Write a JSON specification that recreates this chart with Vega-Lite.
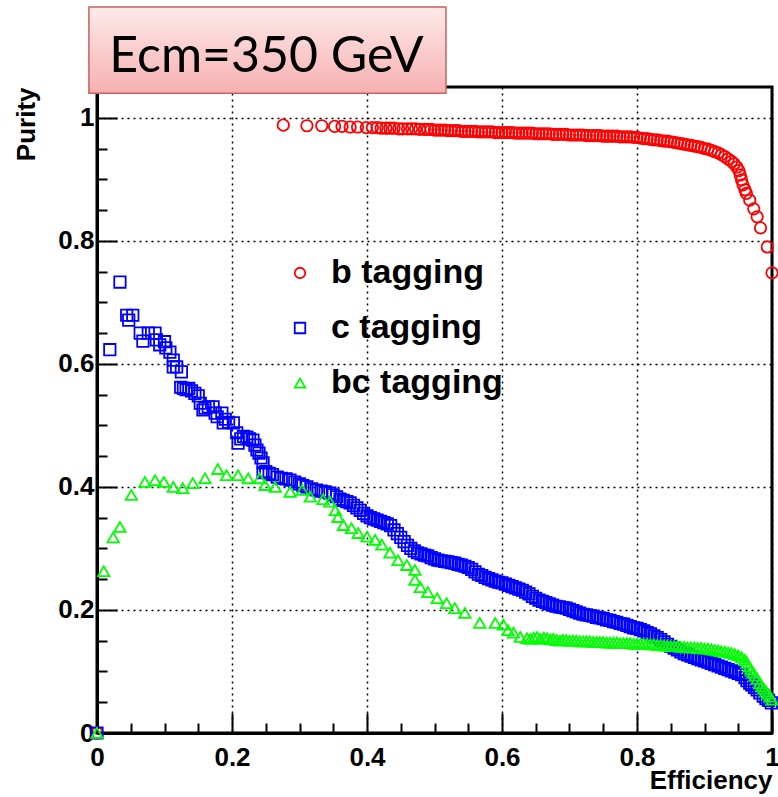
{
  "$schema": "https://vega.github.io/schema/vega-lite/v6.json",
  "width": 675,
  "height": 646,
  "autosize": {"type": "none"},
  "padding": {"left": 97, "top": 87, "right": 6, "bottom": 64},
  "background": "white",
  "config": {
    "view": {"stroke": "black", "strokeWidth": 3},
    "legend": {
      "orient": "none",
      "legendX": 186,
      "legendY": 169,
      "padding": 0,
      "labelFont": "Liberation Sans",
      "labelFontWeight": "bold",
      "labelFontSize": 34,
      "labelColor": "black",
      "labelLimit": 0,
      "labelOffset": 14,
      "rowPadding": 21,
      "symbolSize": 110,
      "symbolStrokeWidth": 1.8
    }
  },
  "data": {
    "values": [
      {"tag": "b tagging", "eff": 0, "pur": 0},
      {"tag": "b tagging", "eff": 0.276, "pur": 0.988},
      {"tag": "b tagging", "eff": 0.311, "pur": 0.987},
      {"tag": "b tagging", "eff": 0.333, "pur": 0.987},
      {"tag": "b tagging", "eff": 0.352, "pur": 0.986},
      {"tag": "b tagging", "eff": 0.363, "pur": 0.986},
      {"tag": "b tagging", "eff": 0.375, "pur": 0.985},
      {"tag": "b tagging", "eff": 0.386, "pur": 0.985},
      {"tag": "b tagging", "eff": 0.399, "pur": 0.984},
      {"tag": "b tagging", "eff": 0.408, "pur": 0.984},
      {"tag": "b tagging", "eff": 0.415, "pur": 0.984},
      {"tag": "b tagging", "eff": 0.421, "pur": 0.983},
      {"tag": "b tagging", "eff": 0.428, "pur": 0.983},
      {"tag": "b tagging", "eff": 0.434, "pur": 0.983},
      {"tag": "b tagging", "eff": 0.44, "pur": 0.983},
      {"tag": "b tagging", "eff": 0.447, "pur": 0.982},
      {"tag": "b tagging", "eff": 0.453, "pur": 0.982},
      {"tag": "b tagging", "eff": 0.46, "pur": 0.982},
      {"tag": "b tagging", "eff": 0.466, "pur": 0.982},
      {"tag": "b tagging", "eff": 0.472, "pur": 0.982},
      {"tag": "b tagging", "eff": 0.478, "pur": 0.981},
      {"tag": "b tagging", "eff": 0.485, "pur": 0.981},
      {"tag": "b tagging", "eff": 0.49, "pur": 0.981},
      {"tag": "b tagging", "eff": 0.495, "pur": 0.981},
      {"tag": "b tagging", "eff": 0.5, "pur": 0.98},
      {"tag": "b tagging", "eff": 0.505, "pur": 0.98},
      {"tag": "b tagging", "eff": 0.51, "pur": 0.98},
      {"tag": "b tagging", "eff": 0.515, "pur": 0.98},
      {"tag": "b tagging", "eff": 0.52, "pur": 0.979},
      {"tag": "b tagging", "eff": 0.525, "pur": 0.979},
      {"tag": "b tagging", "eff": 0.53, "pur": 0.979},
      {"tag": "b tagging", "eff": 0.535, "pur": 0.979},
      {"tag": "b tagging", "eff": 0.54, "pur": 0.978},
      {"tag": "b tagging", "eff": 0.545, "pur": 0.978},
      {"tag": "b tagging", "eff": 0.55, "pur": 0.978},
      {"tag": "b tagging", "eff": 0.555, "pur": 0.978},
      {"tag": "b tagging", "eff": 0.56, "pur": 0.978},
      {"tag": "b tagging", "eff": 0.565, "pur": 0.977},
      {"tag": "b tagging", "eff": 0.57, "pur": 0.977},
      {"tag": "b tagging", "eff": 0.575, "pur": 0.977},
      {"tag": "b tagging", "eff": 0.58, "pur": 0.977},
      {"tag": "b tagging", "eff": 0.585, "pur": 0.977},
      {"tag": "b tagging", "eff": 0.59, "pur": 0.976},
      {"tag": "b tagging", "eff": 0.595, "pur": 0.976},
      {"tag": "b tagging", "eff": 0.6, "pur": 0.976},
      {"tag": "b tagging", "eff": 0.605, "pur": 0.976},
      {"tag": "b tagging", "eff": 0.61, "pur": 0.976},
      {"tag": "b tagging", "eff": 0.615, "pur": 0.976},
      {"tag": "b tagging", "eff": 0.62, "pur": 0.975},
      {"tag": "b tagging", "eff": 0.625, "pur": 0.975},
      {"tag": "b tagging", "eff": 0.63, "pur": 0.975},
      {"tag": "b tagging", "eff": 0.635, "pur": 0.975},
      {"tag": "b tagging", "eff": 0.64, "pur": 0.975},
      {"tag": "b tagging", "eff": 0.645, "pur": 0.975},
      {"tag": "b tagging", "eff": 0.65, "pur": 0.974},
      {"tag": "b tagging", "eff": 0.655, "pur": 0.974},
      {"tag": "b tagging", "eff": 0.66, "pur": 0.974},
      {"tag": "b tagging", "eff": 0.665, "pur": 0.974},
      {"tag": "b tagging", "eff": 0.67, "pur": 0.974},
      {"tag": "b tagging", "eff": 0.675, "pur": 0.973},
      {"tag": "b tagging", "eff": 0.68, "pur": 0.973},
      {"tag": "b tagging", "eff": 0.685, "pur": 0.973},
      {"tag": "b tagging", "eff": 0.69, "pur": 0.973},
      {"tag": "b tagging", "eff": 0.695, "pur": 0.973},
      {"tag": "b tagging", "eff": 0.7, "pur": 0.972},
      {"tag": "b tagging", "eff": 0.705, "pur": 0.972},
      {"tag": "b tagging", "eff": 0.71, "pur": 0.972},
      {"tag": "b tagging", "eff": 0.715, "pur": 0.972},
      {"tag": "b tagging", "eff": 0.72, "pur": 0.972},
      {"tag": "b tagging", "eff": 0.725, "pur": 0.971},
      {"tag": "b tagging", "eff": 0.73, "pur": 0.971},
      {"tag": "b tagging", "eff": 0.735, "pur": 0.971},
      {"tag": "b tagging", "eff": 0.74, "pur": 0.971},
      {"tag": "b tagging", "eff": 0.745, "pur": 0.971},
      {"tag": "b tagging", "eff": 0.75, "pur": 0.97},
      {"tag": "b tagging", "eff": 0.755, "pur": 0.97},
      {"tag": "b tagging", "eff": 0.76, "pur": 0.97},
      {"tag": "b tagging", "eff": 0.765, "pur": 0.97},
      {"tag": "b tagging", "eff": 0.77, "pur": 0.97},
      {"tag": "b tagging", "eff": 0.775, "pur": 0.969},
      {"tag": "b tagging", "eff": 0.78, "pur": 0.969},
      {"tag": "b tagging", "eff": 0.785, "pur": 0.969},
      {"tag": "b tagging", "eff": 0.79, "pur": 0.969},
      {"tag": "b tagging", "eff": 0.795, "pur": 0.968},
      {"tag": "b tagging", "eff": 0.8, "pur": 0.968},
      {"tag": "b tagging", "eff": 0.805, "pur": 0.967},
      {"tag": "b tagging", "eff": 0.81, "pur": 0.966},
      {"tag": "b tagging", "eff": 0.815, "pur": 0.966},
      {"tag": "b tagging", "eff": 0.82, "pur": 0.965},
      {"tag": "b tagging", "eff": 0.825, "pur": 0.964},
      {"tag": "b tagging", "eff": 0.83, "pur": 0.964},
      {"tag": "b tagging", "eff": 0.835, "pur": 0.963},
      {"tag": "b tagging", "eff": 0.84, "pur": 0.962},
      {"tag": "b tagging", "eff": 0.845, "pur": 0.962},
      {"tag": "b tagging", "eff": 0.85, "pur": 0.961},
      {"tag": "b tagging", "eff": 0.855, "pur": 0.96},
      {"tag": "b tagging", "eff": 0.86, "pur": 0.959},
      {"tag": "b tagging", "eff": 0.865, "pur": 0.958},
      {"tag": "b tagging", "eff": 0.87, "pur": 0.957},
      {"tag": "b tagging", "eff": 0.875, "pur": 0.956},
      {"tag": "b tagging", "eff": 0.88, "pur": 0.955},
      {"tag": "b tagging", "eff": 0.885, "pur": 0.954},
      {"tag": "b tagging", "eff": 0.89, "pur": 0.953},
      {"tag": "b tagging", "eff": 0.895, "pur": 0.952},
      {"tag": "b tagging", "eff": 0.9, "pur": 0.95},
      {"tag": "b tagging", "eff": 0.905, "pur": 0.949},
      {"tag": "b tagging", "eff": 0.91, "pur": 0.947},
      {"tag": "b tagging", "eff": 0.915, "pur": 0.945},
      {"tag": "b tagging", "eff": 0.92, "pur": 0.943},
      {"tag": "b tagging", "eff": 0.925, "pur": 0.94},
      {"tag": "b tagging", "eff": 0.93, "pur": 0.937},
      {"tag": "b tagging", "eff": 0.935, "pur": 0.933},
      {"tag": "b tagging", "eff": 0.94, "pur": 0.929},
      {"tag": "b tagging", "eff": 0.944, "pur": 0.925},
      {"tag": "b tagging", "eff": 0.948, "pur": 0.92},
      {"tag": "b tagging", "eff": 0.951, "pur": 0.914},
      {"tag": "b tagging", "eff": 0.953, "pur": 0.907},
      {"tag": "b tagging", "eff": 0.955, "pur": 0.899},
      {"tag": "b tagging", "eff": 0.957, "pur": 0.891},
      {"tag": "b tagging", "eff": 0.96, "pur": 0.883},
      {"tag": "b tagging", "eff": 0.962, "pur": 0.877},
      {"tag": "b tagging", "eff": 0.967, "pur": 0.866},
      {"tag": "b tagging", "eff": 0.973, "pur": 0.852},
      {"tag": "b tagging", "eff": 0.978, "pur": 0.839},
      {"tag": "b tagging", "eff": 0.983, "pur": 0.821},
      {"tag": "b tagging", "eff": 0.993, "pur": 0.79},
      {"tag": "b tagging", "eff": 1.0, "pur": 0.748},

      {"tag": "c tagging", "eff": 0, "pur": 0},
      {"tag": "c tagging", "eff": 0.019, "pur": 0.623},
      {"tag": "c tagging", "eff": 0.034, "pur": 0.733},
      {"tag": "c tagging", "eff": 0.044, "pur": 0.679},
      {"tag": "c tagging", "eff": 0.047, "pur": 0.671},
      {"tag": "c tagging", "eff": 0.053, "pur": 0.679},
      {"tag": "c tagging", "eff": 0.064, "pur": 0.65},
      {"tag": "c tagging", "eff": 0.068, "pur": 0.637},
      {"tag": "c tagging", "eff": 0.076, "pur": 0.65},
      {"tag": "c tagging", "eff": 0.086, "pur": 0.65},
      {"tag": "c tagging", "eff": 0.088, "pur": 0.639},
      {"tag": "c tagging", "eff": 0.093, "pur": 0.631},
      {"tag": "c tagging", "eff": 0.1, "pur": 0.636},
      {"tag": "c tagging", "eff": 0.102, "pur": 0.626},
      {"tag": "c tagging", "eff": 0.108, "pur": 0.619},
      {"tag": "c tagging", "eff": 0.113, "pur": 0.606},
      {"tag": "c tagging", "eff": 0.113, "pur": 0.595},
      {"tag": "c tagging", "eff": 0.118, "pur": 0.595},
      {"tag": "c tagging", "eff": 0.125, "pur": 0.587},
      {"tag": "c tagging", "eff": 0.124, "pur": 0.562},
      {"tag": "c tagging", "eff": 0.128, "pur": 0.56},
      {"tag": "c tagging", "eff": 0.132, "pur": 0.558},
      {"tag": "c tagging", "eff": 0.136, "pur": 0.56},
      {"tag": "c tagging", "eff": 0.14, "pur": 0.556},
      {"tag": "c tagging", "eff": 0.145, "pur": 0.552},
      {"tag": "c tagging", "eff": 0.15, "pur": 0.548},
      {"tag": "c tagging", "eff": 0.153, "pur": 0.536},
      {"tag": "c tagging", "eff": 0.157, "pur": 0.525},
      {"tag": "c tagging", "eff": 0.16, "pur": 0.528},
      {"tag": "c tagging", "eff": 0.165, "pur": 0.53},
      {"tag": "c tagging", "eff": 0.172, "pur": 0.53},
      {"tag": "c tagging", "eff": 0.175, "pur": 0.52},
      {"tag": "c tagging", "eff": 0.178, "pur": 0.514},
      {"tag": "c tagging", "eff": 0.185, "pur": 0.52},
      {"tag": "c tagging", "eff": 0.187, "pur": 0.504},
      {"tag": "c tagging", "eff": 0.19, "pur": 0.51},
      {"tag": "c tagging", "eff": 0.195, "pur": 0.505},
      {"tag": "c tagging", "eff": 0.202, "pur": 0.504},
      {"tag": "c tagging", "eff": 0.207, "pur": 0.488},
      {"tag": "c tagging", "eff": 0.209, "pur": 0.471},
      {"tag": "c tagging", "eff": 0.213, "pur": 0.478},
      {"tag": "c tagging", "eff": 0.217, "pur": 0.482},
      {"tag": "c tagging", "eff": 0.222, "pur": 0.481},
      {"tag": "c tagging", "eff": 0.226, "pur": 0.478},
      {"tag": "c tagging", "eff": 0.231, "pur": 0.476},
      {"tag": "c tagging", "eff": 0.234, "pur": 0.468},
      {"tag": "c tagging", "eff": 0.237, "pur": 0.46},
      {"tag": "c tagging", "eff": 0.24, "pur": 0.455},
      {"tag": "c tagging", "eff": 0.243, "pur": 0.447},
      {"tag": "c tagging", "eff": 0.246, "pur": 0.439},
      {"tag": "c tagging", "eff": 0.246, "pur": 0.423},
      {"tag": "c tagging", "eff": 0.25, "pur": 0.425},
      {"tag": "c tagging", "eff": 0.255, "pur": 0.422},
      {"tag": "c tagging", "eff": 0.26, "pur": 0.42},
      {"tag": "c tagging", "eff": 0.267, "pur": 0.416},
      {"tag": "c tagging", "eff": 0.273, "pur": 0.414},
      {"tag": "c tagging", "eff": 0.28, "pur": 0.413},
      {"tag": "c tagging", "eff": 0.286, "pur": 0.411},
      {"tag": "c tagging", "eff": 0.293, "pur": 0.408},
      {"tag": "c tagging", "eff": 0.3, "pur": 0.405},
      {"tag": "c tagging", "eff": 0.305, "pur": 0.402},
      {"tag": "c tagging", "eff": 0.311, "pur": 0.4},
      {"tag": "c tagging", "eff": 0.318, "pur": 0.397},
      {"tag": "c tagging", "eff": 0.325, "pur": 0.395},
      {"tag": "c tagging", "eff": 0.332, "pur": 0.393},
      {"tag": "c tagging", "eff": 0.338, "pur": 0.392},
      {"tag": "c tagging", "eff": 0.345, "pur": 0.39},
      {"tag": "c tagging", "eff": 0.35, "pur": 0.387},
      {"tag": "c tagging", "eff": 0.355, "pur": 0.384},
      {"tag": "c tagging", "eff": 0.36, "pur": 0.38},
      {"tag": "c tagging", "eff": 0.365, "pur": 0.378},
      {"tag": "c tagging", "eff": 0.37, "pur": 0.376},
      {"tag": "c tagging", "eff": 0.375, "pur": 0.374},
      {"tag": "c tagging", "eff": 0.38, "pur": 0.37},
      {"tag": "c tagging", "eff": 0.385, "pur": 0.366},
      {"tag": "c tagging", "eff": 0.39, "pur": 0.362},
      {"tag": "c tagging", "eff": 0.395, "pur": 0.357},
      {"tag": "c tagging", "eff": 0.4, "pur": 0.353},
      {"tag": "c tagging", "eff": 0.405, "pur": 0.35},
      {"tag": "c tagging", "eff": 0.41, "pur": 0.348},
      {"tag": "c tagging", "eff": 0.415, "pur": 0.346},
      {"tag": "c tagging", "eff": 0.42, "pur": 0.344},
      {"tag": "c tagging", "eff": 0.425, "pur": 0.342},
      {"tag": "c tagging", "eff": 0.43, "pur": 0.34},
      {"tag": "c tagging", "eff": 0.435, "pur": 0.337},
      {"tag": "c tagging", "eff": 0.44, "pur": 0.33},
      {"tag": "c tagging", "eff": 0.445, "pur": 0.324},
      {"tag": "c tagging", "eff": 0.45, "pur": 0.318},
      {"tag": "c tagging", "eff": 0.455, "pur": 0.311},
      {"tag": "c tagging", "eff": 0.46, "pur": 0.305},
      {"tag": "c tagging", "eff": 0.465, "pur": 0.3},
      {"tag": "c tagging", "eff": 0.47, "pur": 0.296},
      {"tag": "c tagging", "eff": 0.475, "pur": 0.293},
      {"tag": "c tagging", "eff": 0.48, "pur": 0.291},
      {"tag": "c tagging", "eff": 0.485, "pur": 0.289},
      {"tag": "c tagging", "eff": 0.49, "pur": 0.288},
      {"tag": "c tagging", "eff": 0.495, "pur": 0.285},
      {"tag": "c tagging", "eff": 0.5, "pur": 0.283},
      {"tag": "c tagging", "eff": 0.505, "pur": 0.281},
      {"tag": "c tagging", "eff": 0.51, "pur": 0.28},
      {"tag": "c tagging", "eff": 0.515, "pur": 0.279},
      {"tag": "c tagging", "eff": 0.52, "pur": 0.278},
      {"tag": "c tagging", "eff": 0.525, "pur": 0.277},
      {"tag": "c tagging", "eff": 0.53, "pur": 0.276},
      {"tag": "c tagging", "eff": 0.535, "pur": 0.274},
      {"tag": "c tagging", "eff": 0.54, "pur": 0.273},
      {"tag": "c tagging", "eff": 0.545, "pur": 0.271},
      {"tag": "c tagging", "eff": 0.55, "pur": 0.269},
      {"tag": "c tagging", "eff": 0.555, "pur": 0.266},
      {"tag": "c tagging", "eff": 0.56, "pur": 0.262},
      {"tag": "c tagging", "eff": 0.565, "pur": 0.258},
      {"tag": "c tagging", "eff": 0.57, "pur": 0.256},
      {"tag": "c tagging", "eff": 0.575, "pur": 0.253},
      {"tag": "c tagging", "eff": 0.58, "pur": 0.251},
      {"tag": "c tagging", "eff": 0.585, "pur": 0.249},
      {"tag": "c tagging", "eff": 0.59, "pur": 0.247},
      {"tag": "c tagging", "eff": 0.595, "pur": 0.245},
      {"tag": "c tagging", "eff": 0.6, "pur": 0.244},
      {"tag": "c tagging", "eff": 0.605, "pur": 0.242},
      {"tag": "c tagging", "eff": 0.61, "pur": 0.24},
      {"tag": "c tagging", "eff": 0.615, "pur": 0.238},
      {"tag": "c tagging", "eff": 0.62, "pur": 0.236},
      {"tag": "c tagging", "eff": 0.625, "pur": 0.234},
      {"tag": "c tagging", "eff": 0.63, "pur": 0.232},
      {"tag": "c tagging", "eff": 0.635, "pur": 0.229},
      {"tag": "c tagging", "eff": 0.64, "pur": 0.226},
      {"tag": "c tagging", "eff": 0.645, "pur": 0.222},
      {"tag": "c tagging", "eff": 0.65, "pur": 0.219},
      {"tag": "c tagging", "eff": 0.655, "pur": 0.216},
      {"tag": "c tagging", "eff": 0.66, "pur": 0.214},
      {"tag": "c tagging", "eff": 0.665, "pur": 0.212},
      {"tag": "c tagging", "eff": 0.67, "pur": 0.21},
      {"tag": "c tagging", "eff": 0.675, "pur": 0.208},
      {"tag": "c tagging", "eff": 0.68, "pur": 0.206},
      {"tag": "c tagging", "eff": 0.685, "pur": 0.205},
      {"tag": "c tagging", "eff": 0.69, "pur": 0.204},
      {"tag": "c tagging", "eff": 0.695, "pur": 0.203},
      {"tag": "c tagging", "eff": 0.7, "pur": 0.201},
      {"tag": "c tagging", "eff": 0.705, "pur": 0.199},
      {"tag": "c tagging", "eff": 0.71, "pur": 0.197},
      {"tag": "c tagging", "eff": 0.715, "pur": 0.195},
      {"tag": "c tagging", "eff": 0.72, "pur": 0.193},
      {"tag": "c tagging", "eff": 0.725, "pur": 0.192},
      {"tag": "c tagging", "eff": 0.73, "pur": 0.191},
      {"tag": "c tagging", "eff": 0.735, "pur": 0.19},
      {"tag": "c tagging", "eff": 0.74, "pur": 0.188},
      {"tag": "c tagging", "eff": 0.745, "pur": 0.187},
      {"tag": "c tagging", "eff": 0.75, "pur": 0.186},
      {"tag": "c tagging", "eff": 0.755, "pur": 0.184},
      {"tag": "c tagging", "eff": 0.76, "pur": 0.183},
      {"tag": "c tagging", "eff": 0.765, "pur": 0.181},
      {"tag": "c tagging", "eff": 0.77, "pur": 0.18},
      {"tag": "c tagging", "eff": 0.775, "pur": 0.178},
      {"tag": "c tagging", "eff": 0.78, "pur": 0.177},
      {"tag": "c tagging", "eff": 0.785, "pur": 0.175},
      {"tag": "c tagging", "eff": 0.79, "pur": 0.173},
      {"tag": "c tagging", "eff": 0.795, "pur": 0.171},
      {"tag": "c tagging", "eff": 0.8, "pur": 0.17},
      {"tag": "c tagging", "eff": 0.805, "pur": 0.168},
      {"tag": "c tagging", "eff": 0.81, "pur": 0.166},
      {"tag": "c tagging", "eff": 0.815, "pur": 0.163},
      {"tag": "c tagging", "eff": 0.82, "pur": 0.161},
      {"tag": "c tagging", "eff": 0.825, "pur": 0.158},
      {"tag": "c tagging", "eff": 0.83, "pur": 0.155},
      {"tag": "c tagging", "eff": 0.835, "pur": 0.152},
      {"tag": "c tagging", "eff": 0.84, "pur": 0.148},
      {"tag": "c tagging", "eff": 0.845, "pur": 0.144},
      {"tag": "c tagging", "eff": 0.85, "pur": 0.141},
      {"tag": "c tagging", "eff": 0.855, "pur": 0.138},
      {"tag": "c tagging", "eff": 0.86, "pur": 0.135},
      {"tag": "c tagging", "eff": 0.865, "pur": 0.132},
      {"tag": "c tagging", "eff": 0.87, "pur": 0.129},
      {"tag": "c tagging", "eff": 0.875, "pur": 0.127},
      {"tag": "c tagging", "eff": 0.88, "pur": 0.125},
      {"tag": "c tagging", "eff": 0.885, "pur": 0.123},
      {"tag": "c tagging", "eff": 0.89, "pur": 0.121},
      {"tag": "c tagging", "eff": 0.895, "pur": 0.119},
      {"tag": "c tagging", "eff": 0.9, "pur": 0.117},
      {"tag": "c tagging", "eff": 0.905, "pur": 0.115},
      {"tag": "c tagging", "eff": 0.91, "pur": 0.113},
      {"tag": "c tagging", "eff": 0.915, "pur": 0.111},
      {"tag": "c tagging", "eff": 0.92, "pur": 0.109},
      {"tag": "c tagging", "eff": 0.925, "pur": 0.107},
      {"tag": "c tagging", "eff": 0.93, "pur": 0.105},
      {"tag": "c tagging", "eff": 0.935, "pur": 0.103},
      {"tag": "c tagging", "eff": 0.94, "pur": 0.101},
      {"tag": "c tagging", "eff": 0.945, "pur": 0.099},
      {"tag": "c tagging", "eff": 0.95, "pur": 0.097},
      {"tag": "c tagging", "eff": 0.955, "pur": 0.095},
      {"tag": "c tagging", "eff": 0.96, "pur": 0.09},
      {"tag": "c tagging", "eff": 0.963, "pur": 0.085},
      {"tag": "c tagging", "eff": 0.967, "pur": 0.081},
      {"tag": "c tagging", "eff": 0.97, "pur": 0.078},
      {"tag": "c tagging", "eff": 0.974, "pur": 0.074},
      {"tag": "c tagging", "eff": 0.978, "pur": 0.07},
      {"tag": "c tagging", "eff": 0.982, "pur": 0.065},
      {"tag": "c tagging", "eff": 0.987, "pur": 0.06},
      {"tag": "c tagging", "eff": 0.991, "pur": 0.056},
      {"tag": "c tagging", "eff": 0.995, "pur": 0.053},
      {"tag": "c tagging", "eff": 0.999, "pur": 0.049},

      {"tag": "bc tagging", "eff": 0, "pur": 0},
      {"tag": "bc tagging", "eff": 0.01, "pur": 0.263},
      {"tag": "bc tagging", "eff": 0.024, "pur": 0.318},
      {"tag": "bc tagging", "eff": 0.034, "pur": 0.335},
      {"tag": "bc tagging", "eff": 0.051, "pur": 0.387},
      {"tag": "bc tagging", "eff": 0.071, "pur": 0.408},
      {"tag": "bc tagging", "eff": 0.086, "pur": 0.411},
      {"tag": "bc tagging", "eff": 0.099, "pur": 0.408},
      {"tag": "bc tagging", "eff": 0.113, "pur": 0.4},
      {"tag": "bc tagging", "eff": 0.127, "pur": 0.398},
      {"tag": "bc tagging", "eff": 0.142, "pur": 0.406},
      {"tag": "bc tagging", "eff": 0.16, "pur": 0.414},
      {"tag": "bc tagging", "eff": 0.179, "pur": 0.429},
      {"tag": "bc tagging", "eff": 0.192, "pur": 0.419},
      {"tag": "bc tagging", "eff": 0.209, "pur": 0.419},
      {"tag": "bc tagging", "eff": 0.224, "pur": 0.414},
      {"tag": "bc tagging", "eff": 0.241, "pur": 0.414},
      {"tag": "bc tagging", "eff": 0.249, "pur": 0.403},
      {"tag": "bc tagging", "eff": 0.264, "pur": 0.4},
      {"tag": "bc tagging", "eff": 0.286, "pur": 0.392},
      {"tag": "bc tagging", "eff": 0.304, "pur": 0.395},
      {"tag": "bc tagging", "eff": 0.316, "pur": 0.384},
      {"tag": "bc tagging", "eff": 0.335, "pur": 0.38},
      {"tag": "bc tagging", "eff": 0.345, "pur": 0.376},
      {"tag": "bc tagging", "eff": 0.353, "pur": 0.362},
      {"tag": "bc tagging", "eff": 0.357, "pur": 0.351},
      {"tag": "bc tagging", "eff": 0.365, "pur": 0.338},
      {"tag": "bc tagging", "eff": 0.377, "pur": 0.333},
      {"tag": "bc tagging", "eff": 0.387, "pur": 0.325},
      {"tag": "bc tagging", "eff": 0.4, "pur": 0.319},
      {"tag": "bc tagging", "eff": 0.412, "pur": 0.314},
      {"tag": "bc tagging", "eff": 0.422, "pur": 0.306},
      {"tag": "bc tagging", "eff": 0.434, "pur": 0.293},
      {"tag": "bc tagging", "eff": 0.446, "pur": 0.281},
      {"tag": "bc tagging", "eff": 0.459, "pur": 0.273},
      {"tag": "bc tagging", "eff": 0.471, "pur": 0.265},
      {"tag": "bc tagging", "eff": 0.471, "pur": 0.249},
      {"tag": "bc tagging", "eff": 0.479, "pur": 0.237},
      {"tag": "bc tagging", "eff": 0.49, "pur": 0.229},
      {"tag": "bc tagging", "eff": 0.504, "pur": 0.219},
      {"tag": "bc tagging", "eff": 0.518, "pur": 0.211},
      {"tag": "bc tagging", "eff": 0.53, "pur": 0.203},
      {"tag": "bc tagging", "eff": 0.545, "pur": 0.195},
      {"tag": "bc tagging", "eff": 0.567, "pur": 0.179},
      {"tag": "bc tagging", "eff": 0.59, "pur": 0.179},
      {"tag": "bc tagging", "eff": 0.602, "pur": 0.176},
      {"tag": "bc tagging", "eff": 0.609, "pur": 0.167},
      {"tag": "bc tagging", "eff": 0.617, "pur": 0.163},
      {"tag": "bc tagging", "eff": 0.627, "pur": 0.156},
      {"tag": "bc tagging", "eff": 0.637, "pur": 0.154},
      {"tag": "bc tagging", "eff": 0.642, "pur": 0.153},
      {"tag": "bc tagging", "eff": 0.647, "pur": 0.155},
      {"tag": "bc tagging", "eff": 0.652, "pur": 0.156},
      {"tag": "bc tagging", "eff": 0.657, "pur": 0.153},
      {"tag": "bc tagging", "eff": 0.662, "pur": 0.155},
      {"tag": "bc tagging", "eff": 0.667, "pur": 0.154},
      {"tag": "bc tagging", "eff": 0.672, "pur": 0.152},
      {"tag": "bc tagging", "eff": 0.676, "pur": 0.153},
      {"tag": "bc tagging", "eff": 0.681, "pur": 0.151},
      {"tag": "bc tagging", "eff": 0.686, "pur": 0.15},
      {"tag": "bc tagging", "eff": 0.69, "pur": 0.151},
      {"tag": "bc tagging", "eff": 0.695, "pur": 0.151},
      {"tag": "bc tagging", "eff": 0.7, "pur": 0.15},
      {"tag": "bc tagging", "eff": 0.705, "pur": 0.15},
      {"tag": "bc tagging", "eff": 0.71, "pur": 0.15},
      {"tag": "bc tagging", "eff": 0.715, "pur": 0.149},
      {"tag": "bc tagging", "eff": 0.72, "pur": 0.149},
      {"tag": "bc tagging", "eff": 0.725, "pur": 0.149},
      {"tag": "bc tagging", "eff": 0.73, "pur": 0.149},
      {"tag": "bc tagging", "eff": 0.735, "pur": 0.148},
      {"tag": "bc tagging", "eff": 0.74, "pur": 0.148},
      {"tag": "bc tagging", "eff": 0.745, "pur": 0.148},
      {"tag": "bc tagging", "eff": 0.75, "pur": 0.148},
      {"tag": "bc tagging", "eff": 0.755, "pur": 0.147},
      {"tag": "bc tagging", "eff": 0.76, "pur": 0.147},
      {"tag": "bc tagging", "eff": 0.765, "pur": 0.147},
      {"tag": "bc tagging", "eff": 0.77, "pur": 0.147},
      {"tag": "bc tagging", "eff": 0.775, "pur": 0.146},
      {"tag": "bc tagging", "eff": 0.78, "pur": 0.146},
      {"tag": "bc tagging", "eff": 0.785, "pur": 0.146},
      {"tag": "bc tagging", "eff": 0.79, "pur": 0.146},
      {"tag": "bc tagging", "eff": 0.795, "pur": 0.145},
      {"tag": "bc tagging", "eff": 0.8, "pur": 0.145},
      {"tag": "bc tagging", "eff": 0.805, "pur": 0.145},
      {"tag": "bc tagging", "eff": 0.81, "pur": 0.145},
      {"tag": "bc tagging", "eff": 0.815, "pur": 0.145},
      {"tag": "bc tagging", "eff": 0.82, "pur": 0.144},
      {"tag": "bc tagging", "eff": 0.825, "pur": 0.144},
      {"tag": "bc tagging", "eff": 0.83, "pur": 0.143},
      {"tag": "bc tagging", "eff": 0.835, "pur": 0.143},
      {"tag": "bc tagging", "eff": 0.84, "pur": 0.142},
      {"tag": "bc tagging", "eff": 0.845, "pur": 0.142},
      {"tag": "bc tagging", "eff": 0.85, "pur": 0.141},
      {"tag": "bc tagging", "eff": 0.855, "pur": 0.141},
      {"tag": "bc tagging", "eff": 0.86, "pur": 0.141},
      {"tag": "bc tagging", "eff": 0.865, "pur": 0.14},
      {"tag": "bc tagging", "eff": 0.87, "pur": 0.14},
      {"tag": "bc tagging", "eff": 0.875, "pur": 0.139},
      {"tag": "bc tagging", "eff": 0.88, "pur": 0.139},
      {"tag": "bc tagging", "eff": 0.885, "pur": 0.139},
      {"tag": "bc tagging", "eff": 0.89, "pur": 0.138},
      {"tag": "bc tagging", "eff": 0.895, "pur": 0.138},
      {"tag": "bc tagging", "eff": 0.9, "pur": 0.137},
      {"tag": "bc tagging", "eff": 0.905, "pur": 0.137},
      {"tag": "bc tagging", "eff": 0.91, "pur": 0.136},
      {"tag": "bc tagging", "eff": 0.915, "pur": 0.135},
      {"tag": "bc tagging", "eff": 0.92, "pur": 0.134},
      {"tag": "bc tagging", "eff": 0.925, "pur": 0.133},
      {"tag": "bc tagging", "eff": 0.93, "pur": 0.132},
      {"tag": "bc tagging", "eff": 0.935, "pur": 0.131},
      {"tag": "bc tagging", "eff": 0.94, "pur": 0.13},
      {"tag": "bc tagging", "eff": 0.945, "pur": 0.128},
      {"tag": "bc tagging", "eff": 0.95, "pur": 0.126},
      {"tag": "bc tagging", "eff": 0.955, "pur": 0.123},
      {"tag": "bc tagging", "eff": 0.96, "pur": 0.119},
      {"tag": "bc tagging", "eff": 0.963, "pur": 0.114},
      {"tag": "bc tagging", "eff": 0.966, "pur": 0.108},
      {"tag": "bc tagging", "eff": 0.969, "pur": 0.103},
      {"tag": "bc tagging", "eff": 0.972, "pur": 0.098},
      {"tag": "bc tagging", "eff": 0.975, "pur": 0.093},
      {"tag": "bc tagging", "eff": 0.978, "pur": 0.088},
      {"tag": "bc tagging", "eff": 0.982, "pur": 0.081},
      {"tag": "bc tagging", "eff": 0.985, "pur": 0.076},
      {"tag": "bc tagging", "eff": 0.988, "pur": 0.072},
      {"tag": "bc tagging", "eff": 0.991, "pur": 0.068},
      {"tag": "bc tagging", "eff": 0.994, "pur": 0.064},
      {"tag": "bc tagging", "eff": 0.997, "pur": 0.059},
      {"tag": "bc tagging", "eff": 1.0, "pur": 0.054}
    ]
  },
  "layer": [
    {
      "mark": {"type": "point", "filled": false, "size": 130, "strokeWidth": 1.8, "opacity": 1},
      "encoding": {
        "x": {
          "field": "eff", "type": "quantitative",
          "scale": {"domain": [0, 1], "nice": false, "zero": false},
          "axis": {
            "orient": "bottom",
            "values": [0, 0.2, 0.4, 0.6, 0.8, 1],
            "format": "~g",
            "grid": true, "gridColor": "black", "gridDash": [2, 4], "gridWidth": 1.5, "gridOpacity": 1,
            "ticks": true, "tickSize": -20, "tickWidth": 2, "tickColor": "black",
            "domain": true, "domainColor": "black", "domainWidth": 3,
            "labelFont": "Liberation Sans", "labelFontWeight": "bold", "labelFontSize": 26, "labelColor": "black",
            "labelPadding": 31, "labelFlush": false, "labelOverlap": false,
            "title": "Efficiency",
            "titleFont": "Liberation Sans", "titleFontWeight": "bold", "titleFontSize": 26, "titleColor": "black",
            "titleAnchor": "end", "titlePadding": -3
          }
        },
        "y": {
          "field": "pur", "type": "quantitative",
          "scale": {"domain": [0, 1.05], "nice": false, "zero": false},
          "axis": {
            "orient": "left",
            "values": [0, 0.2, 0.4, 0.6, 0.8, 1],
            "format": "~g",
            "grid": true, "gridColor": "black", "gridDash": [2, 4], "gridWidth": 1.5, "gridOpacity": 1,
            "ticks": true, "tickSize": -20, "tickWidth": 2, "tickColor": "black",
            "domain": true, "domainColor": "black", "domainWidth": 3,
            "labelFont": "Liberation Sans", "labelFontWeight": "bold", "labelFontSize": 26, "labelColor": "black",
            "labelPadding": 23, "labelFlush": false, "labelOverlap": false,
            "title": "Purity",
            "titleFont": "Liberation Sans", "titleFontWeight": "bold", "titleFontSize": 26, "titleColor": "black",
            "titleAnchor": "end", "titlePadding": 18
          }
        },
        "color": {
          "field": "tag", "type": "nominal",
          "scale": {"domain": ["b tagging", "c tagging", "bc tagging"], "range": ["#ff0000", "#0000ff", "#00ff00"]},
          "legend": {"title": null}
        },
        "shape": {
          "field": "tag", "type": "nominal",
          "scale": {"domain": ["b tagging", "c tagging", "bc tagging"], "range": ["circle", "square", "triangle-up"]},
          "legend": {"title": null}
        }
      }
    },
    {
      "data": {"values": [{"label": "Ecm=350 GeV"}]},
      "mark": {
        "type": "rect",
        "stroke": "#c9625f",
        "strokeWidth": 1.5,
        "fill": {
          "gradient": "linear", "x1": 0, "y1": 0, "x2": 0, "y2": 1,
          "stops": [{"offset": 0, "color": "#fdeaea"}, {"offset": 1, "color": "#f7b0b0"}]
        }
      },
      "encoding": {
        "x": {
          "datum": -0.012, "type": "quantitative",
          "scale": {"domain": [0, 1], "nice": false, "zero": false},
          "axis": {
            "orient": "bottom",
            "values": [0.05, 0.1, 0.15, 0.25, 0.3, 0.35, 0.45, 0.5, 0.55, 0.65, 0.7, 0.75, 0.85, 0.9, 0.95],
            "grid": false, "domain": false, "labels": false, "title": null,
            "ticks": true, "tickSize": -10, "tickWidth": 2, "tickColor": "black"
          }
        },
        "x2": {"datum": 0.517},
        "y": {
          "datum": 1.18, "type": "quantitative",
          "scale": {"domain": [0, 1.05], "nice": false, "zero": false},
          "axis": {
            "orient": "left",
            "values": [0.05, 0.1, 0.15, 0.25, 0.3, 0.35, 0.45, 0.5, 0.55, 0.65, 0.7, 0.75, 0.85, 0.9, 0.95],
            "grid": false, "domain": false, "labels": false, "title": null,
            "ticks": true, "tickSize": -10, "tickWidth": 2, "tickColor": "black"
          }
        },
        "y2": {"datum": 1.04}
      }
    },
    {
      "data": {"values": [{"label": "Ecm=350 GeV"}]},
      "mark": {"type": "text", "font": "Lato", "fontSize": 50, "color": "black", "align": "center", "baseline": "alphabetic"},
      "encoding": {
        "x": {"datum": 0.251, "type": "quantitative", "scale": {"domain": [0, 1], "nice": false, "zero": false}, "axis": null},
        "y": {"datum": 1.0744, "type": "quantitative", "scale": {"domain": [0, 1.05], "nice": false, "zero": false}, "axis": null},
        "text": {"field": "label", "type": "nominal"}
      }
    }
  ],
  "resolve": {"axis": {"x": "independent", "y": "independent"}}
}
